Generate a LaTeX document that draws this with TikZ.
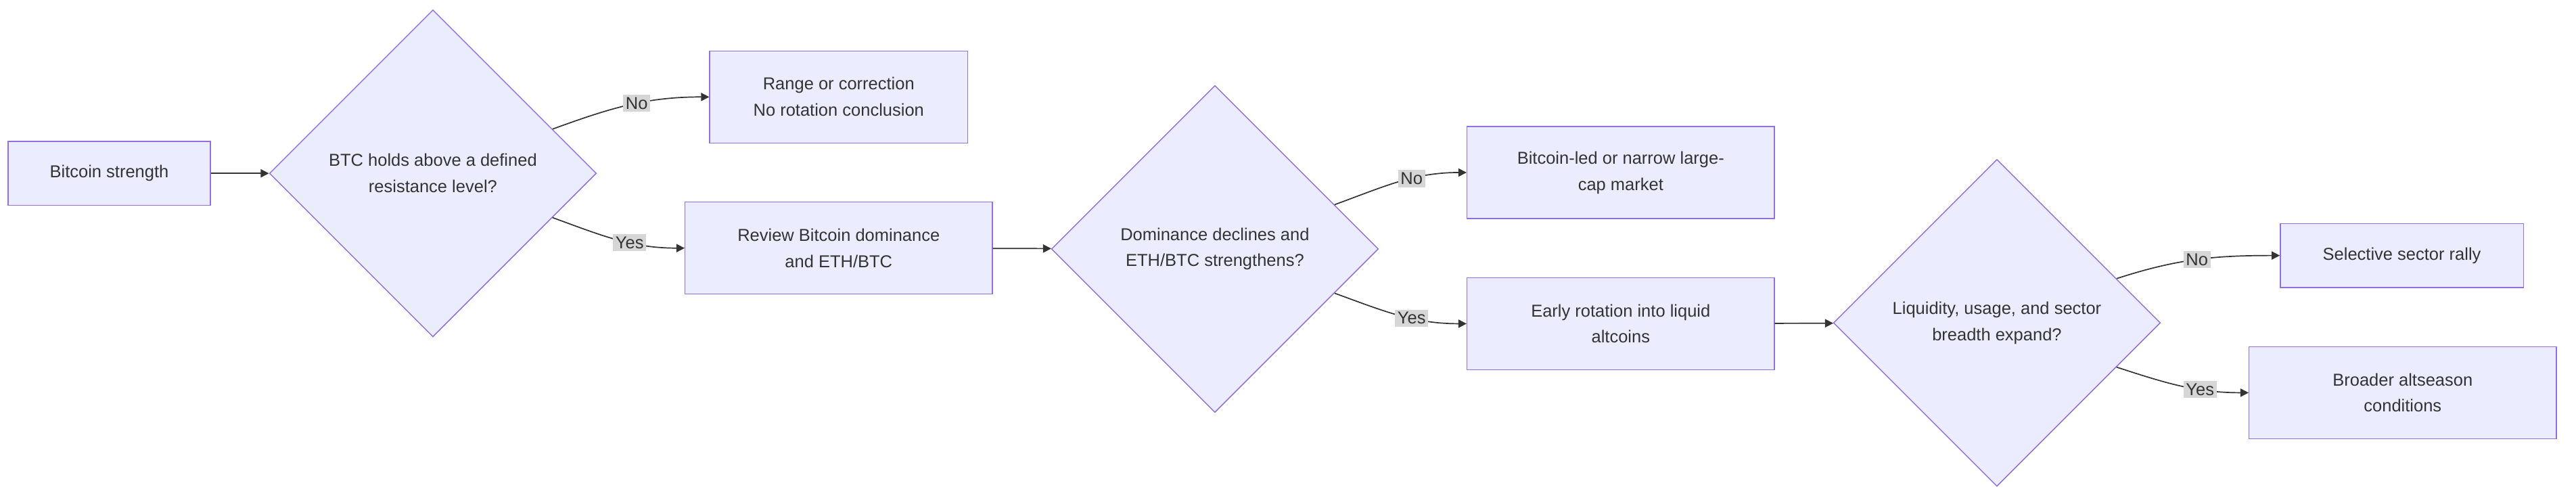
\documentclass[tikz,border=0pt]{standalone}
\usepackage{fontspec}
\setmainfont{Liberation Sans}
\usetikzlibrary{shapes.geometric,arrows.meta,calc}
\definecolor{nfill}{HTML}{ECECFF}
\definecolor{nstroke}{HTML}{9370DB}
\definecolor{txt}{HTML}{333333}
\definecolor{lblbg}{HTML}{D6D6D6}
\begin{document}
\begin{tikzpicture}[x=1pt,y=-1pt,
  every node/.style={font=\fontsize{10.5}{16}\selectfont, text=txt},
  box/.style={draw=nstroke, fill=nfill, line width=0.6pt, align=center, inner sep=0pt},
  dia/.style={diamond, aspect=1, draw=nstroke, fill=nfill, line width=0.6pt, align=center, inner sep=0pt, minimum width=199pt, minimum height=199pt},
  lbl/.style={fill=lblbg, inner sep=1.5pt, font=\fontsize{10.5}{12}\selectfont},
  edge/.style={draw=txt, line width=0.7pt, -{Triangle[length=5pt,width=5pt]}}]
\useasboundingbox (0,0) rectangle (1568,304);
\node[box, minimum width=123pt, minimum height=39pt] (A) at (66.5,105.5) {Bitcoin strength};
\node[dia] (B) at (263.5,105.5) {BTC holds above a defined\\resistance level?};
\node[box, minimum width=157pt, minimum height=56pt] (C) at (510.5,59) {Range or correction\\No rotation conclusion};
\node[box, minimum width=187pt, minimum height=56pt] (D) at (510.5,151) {Review Bitcoin dominance\\and ETH/BTC};
\node[dia] (E) at (739.5,151.5) {Dominance declines and\\ETH/BTC strengthens?};
\node[box, minimum width=187pt, minimum height=56pt] (F) at (986.5,105) {Bitcoin-led or narrow large-\\cap market};
\node[box, minimum width=187pt, minimum height=56pt] (G) at (986.5,197) {Early rotation into liquid\\altcoins};
\node[dia] (H) at (1215.5,196.5) {Liquidity, usage, and sector\\breadth expand?};
\node[box, minimum width=148pt, minimum height=39pt] (I) at (1462,155.5) {Selective sector rally};
\node[box, minimum width=187pt, minimum height=56pt] (J) at (1462.5,239) {Broader altseason\\conditions};

\draw[edge] (A) -- (B);
\draw[edge] (D) -- (E);
\draw[edge] (G) -- (H);
\foreach \d/\u/\l in {B/C/D, E/F/G, H/I/J}{
  \coordinate (\d u) at ($(\d.east)!0.27!(\d.north)$);
  \coordinate (\d l) at ($(\d.east)!0.27!(\d.south)$);
}
\draw[edge] (Bu) to[out=20,in=180] node[lbl,pos=0.55]{No} (C.west);
\draw[edge] (Bl) to[out=-20,in=180] node[lbl,pos=0.6]{Yes} (D.west);
\draw[edge] (Eu) to[out=20,in=180] node[lbl,pos=0.6]{No} (F.west);
\draw[edge] (El) to[out=-20,in=180] node[lbl,pos=0.6]{Yes} (G.west);
\draw[edge] (Hu) to[out=18,in=180] node[lbl,pos=0.5]{No} (I.west);
\draw[edge] (Hl) to[out=-18,in=180] node[lbl,pos=0.65]{Yes} (J.west);
\end{tikzpicture}
\end{document}
